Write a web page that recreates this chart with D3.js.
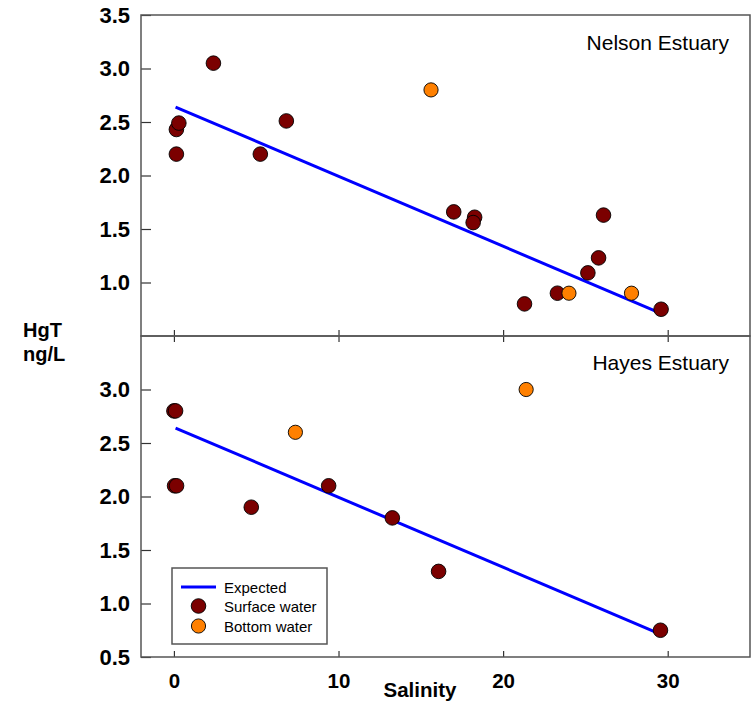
<!DOCTYPE html>
<html>
<head>
<meta charset="utf-8">
<script src="https://cdn.jsdelivr.net/npm/d3@7"></script>
<style>
  body { margin: 0; background: #fff; }
  svg { display: block; font-family: "Liberation Sans", Arial, sans-serif; }
</style>
</head>
<body>
<svg id="chart" width="751" height="706"></svg>
<script>
// ---- Data ----
const nelsonSurfaceX = [2.4, 0.15, 0.3, 0.15, 5.25, 6.83, 17.0, 18.27, 18.18, 21.3, 23.3, 25.15, 25.8, 26.1, 29.6];
const nelsonSurfaceY = [3.05, 2.43, 2.49, 2.20, 2.20, 2.51, 1.66, 1.61, 1.56, 0.80, 0.90, 1.09, 1.23, 1.63, 0.75];
const nelsonBottomX = [15.62, 24.0, 27.8];
const nelsonBottomY = [2.80, 0.90, 0.90];

const hayesSurfaceX = [0.0, 0.1, 0.04, 0.16, 4.7, 9.4, 13.27, 16.08, 29.56];
const hayesSurfaceY = [2.80, 2.80, 2.10, 2.10, 1.90, 2.10, 1.80, 1.30, 0.75];
const hayesBottomX = [7.38, 21.4];
const hayesBottomY = [2.60, 3.00];

const expectedX = [0.1, 29.3];
const expectedY = [2.64, 0.73];

const xTicks = [0, 10, 20, 30];
const topYTicks = [1.0, 1.5, 2.0, 2.5, 3.0, 3.5];
const botYTicks = [0.5, 1.0, 1.5, 2.0, 2.5, 3.0];

const panelTitles = ["Nelson Estuary", "Hayes Estuary"];
const legendLabels = ["Expected", "Surface water", "Bottom water"];

// ---- Layout ----
const svg = d3.select("#chart");
const left = 141, right = 750, top1 = 15, mid = 336, bot = 657;
const surfColor = "#7b0000", botColor = "#ff8000", lineColor = "#0000ff";
const axisColor = "#555";

const x = d3.scaleLinear().domain([-2, 35]).range([left, right]);
const yTop = d3.scaleLinear().domain([0.5, 3.5]).range([mid, top1]);
const yBot = d3.scaleLinear().domain([0.5, 3.5]).range([bot, mid]);

function styleAxis(g, showText) {
  g.select(".domain").remove();
  g.selectAll(".tick line").attr("stroke", "#333").attr("stroke-width", 1.2);
  g.selectAll(".tick text")
    .attr("fill", "#000")
    .style("font-size", "22px")
    .style("font-weight", "bold")
    .style("font-family", '"Liberation Sans", Arial, sans-serif');
  if (!showText) g.selectAll(".tick text").remove();
}

// Y axes
svg.append("g").attr("transform", `translate(${left},0)`)
  .call(d3.axisLeft(yTop).tickValues(topYTicks).tickFormat(d3.format(".1f"))
    .tickSizeInner(-10).tickSizeOuter(0).tickPadding(11))
  .call(g => styleAxis(g, true));
svg.append("g").attr("transform", `translate(${left},0)`)
  .call(d3.axisLeft(yBot).tickValues(botYTicks).tickFormat(d3.format(".1f"))
    .tickSizeInner(-10).tickSizeOuter(0).tickPadding(11))
  .call(g => styleAxis(g, true));

// X ticks at the divider (both sides) and bottom
svg.append("g").attr("transform", `translate(0,${mid})`)
  .call(d3.axisBottom(x).tickValues(xTicks).tickSizeInner(-6).tickSizeOuter(0))
  .call(g => styleAxis(g, false));
svg.append("g").attr("transform", `translate(0,${mid})`)
  .call(d3.axisTop(x).tickValues(xTicks).tickSizeInner(-6).tickSizeOuter(0))
  .call(g => styleAxis(g, false));
svg.append("g").attr("transform", `translate(0,${bot})`)
  .call(d3.axisBottom(x).tickValues(xTicks).tickFormat(d3.format("d"))
    .tickSizeInner(-6).tickSizeOuter(0).tickPadding(16))
  .call(g => styleAxis(g, true))
  .call(g => g.selectAll(".tick text").style("font-size", "20.5px"));

// Frames
[[top1, mid], [mid, bot]].forEach(([a, b]) => {
  svg.append("rect")
    .attr("x", left).attr("y", a)
    .attr("width", right - left).attr("height", b - a)
    .attr("fill", "none").attr("stroke", axisColor).attr("stroke-width", 1.5);
});

// Panels
const panels = [
  { y: yTop, sx: nelsonSurfaceX, sy: nelsonSurfaceY, bx: nelsonBottomX, by: nelsonBottomY, title: panelTitles[0], ty: 50 },
  { y: yBot, sx: hayesSurfaceX, sy: hayesSurfaceY, bx: hayesBottomX, by: hayesBottomY, title: panelTitles[1], ty: 370 }
];
const line = d3.line();
panels.forEach(p => {
  const pts = expectedX.map((v, i) => [x(v), p.y(expectedY[i])]);
  svg.append("path").attr("d", line(pts))
    .attr("fill", "none").attr("stroke", lineColor).attr("stroke-width", 3);
  svg.append("g").selectAll("circle").data(p.sx.map((v, i) => [v, p.sy[i]]))
    .join("circle")
    .attr("cx", d => x(d[0])).attr("cy", d => p.y(d[1])).attr("r", 7.3)
    .attr("fill", surfColor).attr("stroke", "#000").attr("stroke-width", 0.9);
  svg.append("g").selectAll("circle").data(p.bx.map((v, i) => [v, p.by[i]]))
    .join("circle")
    .attr("cx", d => x(d[0])).attr("cy", d => p.y(d[1])).attr("r", 7.1)
    .attr("fill", botColor).attr("stroke", "#000").attr("stroke-width", 0.9);
  svg.append("text").attr("x", 729).attr("y", p.ty)
    .attr("text-anchor", "end").style("font-size", "21px").text(p.title);
});

// Axis titles
svg.append("text").attr("x", 420).attr("y", 697).attr("text-anchor", "middle")
  .style("font-size", "20.5px").style("font-weight", "bold").text("Salinity");
svg.append("text").attr("x", 23).attr("y", 337)
  .style("font-size", "20px").style("font-weight", "bold").text("HgT");
svg.append("text").attr("x", 23).attr("y", 361)
  .style("font-size", "20px").style("font-weight", "bold").text("ng/L");

// Legend
const lg = svg.append("g");
lg.append("rect").attr("x", 172).attr("y", 568).attr("width", 155).attr("height", 76)
  .attr("fill", "#fff").attr("stroke", axisColor).attr("stroke-width", 1.5);
const rowY = [587, 606, 626];
lg.append("line").attr("x1", 181).attr("x2", 216).attr("y1", rowY[0]).attr("y2", rowY[0])
  .attr("stroke", lineColor).attr("stroke-width", 3);
lg.append("circle").attr("cx", 198.5).attr("cy", rowY[1]).attr("r", 7.3)
  .attr("fill", surfColor).attr("stroke", "#000").attr("stroke-width", 0.9);
lg.append("circle").attr("cx", 198.5).attr("cy", rowY[2]).attr("r", 7.1)
  .attr("fill", botColor).attr("stroke", "#000").attr("stroke-width", 0.9);
legendLabels.forEach((t, i) => {
  lg.append("text").attr("x", 224).attr("y", rowY[i] + 5.5)
    .style("font-size", "15px").text(t);
});
</script>
</body>
</html>
